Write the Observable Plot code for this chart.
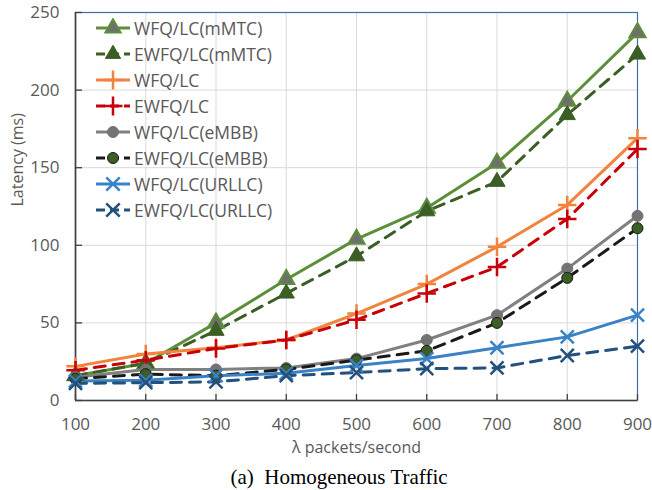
<!DOCTYPE html>
<html>
<head>
<meta charset="utf-8">
<script src="https://cdn.jsdelivr.net/npm/d3@7"></script>
<script src="https://cdn.jsdelivr.net/npm/@observablehq/plot@0.6"></script>
<style>
  body { margin: 0; background: #fff; }
  #wrap { position: relative; width: 652px; height: 490px; font-family: "Open Sans", sans-serif; }
  #legend { position: absolute; left: 94px; top: 15px; }
  .item { display: flex; align-items: center; height: 26px; font-size: 17.5px; color: #595959; }
  .item svg { margin-right: 2px; }
  #caption { position: absolute; left: 0; width: 678px; top: 464px; text-align: center; line-height: 26px;
    font-family: "Liberation Serif", "Times New Roman", serif; font-size: 21px; color: #000; }
</style>
</head>
<body>
<div id="wrap">
  <div id="chart"></div>
  <div id="legend"></div>
  <div id="caption">(a)&nbsp;&nbsp;Homogeneous Traffic</div>
</div>
<script>
const lambdas = [100, 200, 300, 400, 500, 600, 700, 800, 900];
const seriesNames = ["WFQ/LC(mMTC)", "EWFQ/LC(mMTC)", "WFQ/LC", "EWFQ/LC", "WFQ/LC(eMBB)", "EWFQ/LC(eMBB)", "WFQ/LC(URLLC)", "EWFQ/LC(URLLC)"];
const wfqMmtc   = [16, 24, 50, 78, 104, 124, 153, 193, 237];
const ewfqMmtc  = [16, 24, 45, 69, 93, 122, 141, 184, 223];
const wfq       = [22, 30, 34, 39, 56, 75, 99, 126, 169];
const ewfq      = [19.5, 26, 33.5, 39, 52, 69, 86, 117, 162];
const wfqEmbb   = [15, 20, 20, 21, 27, 39, 55, 85, 119];
const ewfqEmbb  = [14, 17, 16, 20, 26, 32, 50, 79, 111];
const wfqUrllc  = [12.5, 13, 16, 17.5, 22.5, 27, 34, 41, 55];
const ewfqUrllc = [11, 11.5, 12, 16, 18, 20.5, 21, 29, 35];
const xTicks = [100, 200, 300, 400, 500, 600, 700, 800, 900];
const yTicks = [0, 50, 100, 150, 200, 250];

const values = [wfqMmtc, ewfqMmtc, wfq, ewfq, wfqEmbb, ewfqEmbb, wfqUrllc, ewfqUrllc];
const styles = [
  {line: "#5b8f3a", dash: null, symbol: "triangle", fill: "#6f6f6f", mstroke: "#5b8f3a", mw: 2, r: 6},
  {line: "#3b5e25", dash: "11,8", symbol: "triangle", fill: "#3b5e25", mstroke: "#3b5e25", mw: 1, r: 6},
  {line: "#f0843c", dash: null, symbol: "plus", fill: "none", mstroke: "#f0843c", mw: 2.5, r: 6},
  {line: "#c8000a", dash: "11,8", symbol: "plus", fill: "none", mstroke: "#c8000a", mw: 2.5, r: 6},
  {line: "#808080", dash: null, symbol: "circle", fill: "#737373", mstroke: "#737373", mw: 1, r: 5.5},
  {line: "#1a1a1a", dash: "11,8", symbol: "circle", fill: "#3b5e25", mstroke: "#1a1a1a", mw: 1, r: 5.5},
  {line: "#3a82c6", dash: null, symbol: "times", fill: "none", mstroke: "#3a82c6", mw: 2.5, r: 6},
  {line: "#23507c", dash: "11,8", symbol: "times", fill: "none", mstroke: "#23507c", mw: 2.5, r: 6}
];

const rows = [];
seriesNames.forEach((name, i) => lambdas.forEach((x, j) => rows.push({series: name, idx: i, x, y: values[i][j]})));

const W = 652, H = 462, mt = 12, mb = 62, ml = 75, mr = 15;
const plotH = H - mt - mb, plotW = W - ml - mr;

const marks = [
  Plot.gridX(xTicks, {stroke: "#d9d9d9", strokeOpacity: 1, strokeWidth: 1}),
  Plot.gridY(yTicks, {stroke: "#d9d9d9", strokeOpacity: 1, strokeWidth: 1}),
  Plot.frame({stroke: "#3f6ea8", strokeWidth: 1.2}),
  Plot.ruleX([100], {stroke: "#404040", strokeWidth: 1.6}),
  Plot.ruleY([0], {stroke: "#404040", strokeWidth: 1.6}),
  Plot.tickX(xTicks, {x: d => d, insetTop: plotH - 6, stroke: "#404040", strokeWidth: 1.3}),
  Plot.tickY(yTicks, {y: d => d, insetRight: plotW - 7, stroke: "#404040", strokeWidth: 1.3}),
  Plot.axisX(xTicks, {tickSize: 0, tickPadding: 17, fontSize: 17, fill: "#595959", label: null}),
  Plot.axisY(yTicks, {tickSize: 0, tickPadding: 16, fontSize: 17, fill: "#595959", label: null})
];
styles.forEach((s, i) => {
  const d = rows.filter(r => r.idx === i);
  marks.push(Plot.line(d, {x: "x", y: "y", stroke: s.line, strokeWidth: 3, strokeDasharray: s.dash || undefined}));
});
styles.forEach((s, i) => {
  const d = rows.filter(r => r.idx === i);
  marks.push(Plot.dot(d, {x: "x", y: "y", symbol: () => s.symbol, r: s.r, fill: s.fill, stroke: s.mstroke, strokeWidth: s.mw}));
});
marks.push(Plot.text(["λ packets/second"], {frameAnchor: "bottom", dy: 52, fontSize: 16, fill: "#595959", text: d => d}));
marks.push(Plot.text(["Latency (ms)"], {frameAnchor: "left", dx: -58, rotate: -90, fontSize: 16, fill: "#595959", text: d => d}));

const chart = Plot.plot({
  width: W, height: H, marginTop: mt, marginBottom: mb, marginLeft: ml, marginRight: mr,
  style: {fontFamily: "Open Sans, sans-serif", background: "#fff", overflow: "visible"},
  x: {domain: [100, 900]},
  y: {domain: [0, 250]},
  symbol: {type: "identity"},
  marks
});
document.getElementById("chart").appendChild(chart);

// legend
const leg = document.getElementById("legend");
const symPath = {
  triangle: d3.symbol(d3.symbolTriangle, 100)(),
  plus: d3.symbol(d3.symbolPlus, 120)(),
  circle: d3.symbol(d3.symbolCircle, 95)(),
  times: d3.symbol(d3.symbolTimes, 120)()
};
seriesNames.forEach((name, i) => {
  const s = styles[i];
  const div = document.createElement("div");
  div.className = "item";
  const dash = s.dash ? `stroke-dasharray="9,5"` : "";
  div.innerHTML = `<svg width="38" height="20"><line x1="2" y1="10" x2="36" y2="10" stroke="${s.line}" stroke-width="3" ${dash}/>` +
    `<path d="${symPath[s.symbol]}" transform="translate(19,10)" fill="${s.fill}" stroke="${s.mstroke}" stroke-width="${s.mw}"/></svg><span>${name}</span>`;
  leg.appendChild(div);
});
</script>
</body>
</html>
